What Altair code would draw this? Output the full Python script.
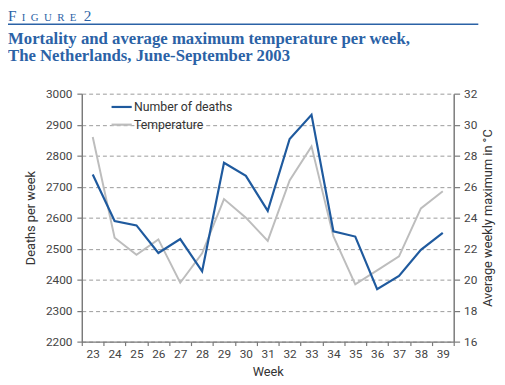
import altair as alt
import pandas as pd

weeks = list(range(23, 40))
deaths = [2739, 2589, 2575, 2486, 2531, 2427, 2777, 2735, 2622, 2854, 2932,
          2556, 2539, 2369, 2412, 2496, 2551]
temperature = [29.2, 22.7, 21.6, 22.6, 19.8, 21.7, 25.2, 24.0, 22.5, 26.4, 28.6,
               22.8, 19.7, 20.6, 21.5, 24.6, 25.7]
series = ["Number of deaths", "Temperature"]
series_colors = ["#1f5a9e", "#bdbdbd"]
deaths_ticks = list(range(2200, 3001, 100))
temp_ticks = list(range(16, 33, 2))

title_blue = "#2b62a6"
label_font = "Roboto"
label_color = "#444444"
axis_color = "#7a7a7a"

df = pd.DataFrame({"week": weeks, "deaths": deaths, "temp": temperature})

x_enc = alt.X(
    "week:O",
    scale=alt.Scale(type="band", paddingInner=0, paddingOuter=0),
    bandPosition=0.5,
    axis=alt.Axis(
        title="Week", labelAngle=0, tickBand="extent", tickSize=4,
        labelPadding=3, titlePadding=6, grid=False,
    ),
)

color_enc = alt.Color(
    "s:N",
    scale=alt.Scale(domain=series, range=series_colors),
    legend=alt.Legend(
        title=None, orient="none", legendX=29, legendY=2,
        symbolType="stroke", symbolSize=420, symbolStrokeWidth=2.2,
        labelFont=label_font, labelFontSize=12.5, labelColor="#333333",
        labelOffset=1, padding=0, rowPadding=0, labelLimit=300,
    ),
)

deaths_line = alt.Chart(df).transform_calculate(s="'Number of deaths'").mark_line(
    strokeWidth=2.2
).encode(
    x=x_enc,
    y=alt.Y(
        "deaths:Q",
        scale=alt.Scale(domain=[2200, 3000], nice=False, zero=False),
        axis=alt.Axis(
            orient="left", title="Deaths per week", values=deaths_ticks,
            format="d", grid=True, gridDash=[4, 3], gridColor="#9a9a9a",
            gridWidth=1, tickSize=5, labelPadding=5, titlePadding=8,
        ),
    ),
    color=color_enc,
)

temp_line = alt.Chart(df).transform_calculate(s="'Temperature'").mark_line(
    strokeWidth=2
).encode(
    x=x_enc,
    y=alt.Y(
        "temp:Q",
        scale=alt.Scale(domain=[16, 32], nice=False, zero=False),
        axis=alt.Axis(
            orient="right", title="Average weekly maximum in °C",
            values=temp_ticks, format="d", grid=False, tickSize=6,
            labelPadding=4, titlePadding=5, titleAngle=270,
            titleBaseline="top",
        ),
    ),
    color=color_enc,
)

one = pd.DataFrame({"k": [0]})

def txt(text, x, y, size, weight="bold", font="Liberation Serif"):
    return alt.Chart(one).mark_text(
        text=text, align="left", baseline="alphabetic", font=font,
        fontSize=size, fontWeight=weight, color=title_blue,
    ).encode(x=alt.value(x), y=alt.value(y))

fig_f = txt("F", -75, -74, 15.5, weight="normal")
fig_rest = txt("I\u2002G\u2002U\u2002R\u2002E", -61, -74, 11, weight="normal")
fig_2 = txt("2", 2, -74, 15.5, weight="normal")
title1 = txt("Mortality and average maximum temperature per week,", -75, -51, 17)
title2 = txt("The Netherlands, June-September 2003", -75, -33.5, 17)

rule = alt.Chart(one).mark_rule(color=title_blue, strokeWidth=1.6).encode(
    x=alt.value(-77), x2=alt.value(403), y=alt.value(-70.5)
)

chart = alt.layer(
    temp_line, deaths_line, fig_f, fig_rest, fig_2, title1, title2, rule
).resolve_scale(y="independent").properties(
    width=378, height=252,
    autosize=alt.AutoSizeParams(type="none"),
    padding={"left": 75, "top": 84, "right": 44, "bottom": 41},
).configure_view(stroke=None).configure_axis(
    labelFont=label_font, labelFontSize=12, labelColor=label_color,
    titleFont=label_font, titleFontSize=13, titleFontWeight="normal",
    titleColor="#333333", domainColor=axis_color, domainWidth=1.5,
    tickColor=axis_color, tickWidth=1.2,
)

chart.save("out.html", embed_options={"renderer": "svg", "actions": False})
